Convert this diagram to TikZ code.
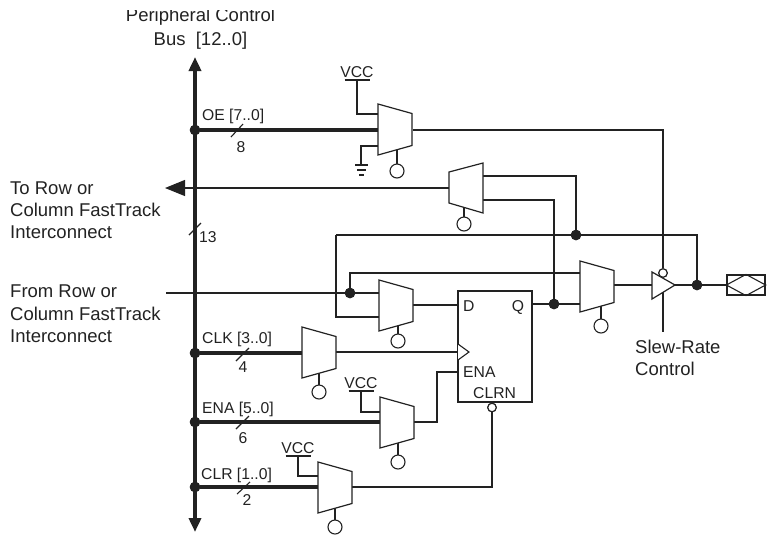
\documentclass[tikz,border=0pt]{standalone}
\usepackage{fontspec}
\setmainfont{Liberation Sans}
\usetikzlibrary{arrows.meta}
\definecolor{ink}{HTML}{222222}
\tikzset{
  wire/.style={draw=ink,line width=1.1pt},
  thick bus/.style={draw=ink,line width=4pt},
  muxbody/.style={draw=ink,line width=1.2pt,fill=white,line join=miter},
  dot/.style={circle,fill=ink,inner sep=0pt,minimum size=10.5pt},
  sel/.style={circle,draw=ink,line width=1.1pt,fill=white,inner sep=0pt,minimum size=14pt},
  inv/.style={circle,draw=ink,line width=1.1pt,fill=white,inner sep=0pt,minimum size=8.5pt},
  big/.style={font=\fontsize{18.5}{22}\selectfont,text=ink,inner sep=0pt},
  small/.style={font=\fontsize{15.7}{18}\selectfont,text=ink,inner sep=0pt},
  pt/.style={inner sep=0pt,minimum size=0pt}
}
% name, x left, y top, x select, y circle
\newcommand{\muxunit}[5]{%
  \pgfmathsetmacro{\sy}{#3+51-(#4-#2)*9.5/34}%
  \draw[wire] (#4,\sy) coordinate (#1-stem) -- (#4,#5) node[sel] (#1-sel) {};
  \draw[muxbody] (#2,#3) -- (#2+34,#3+9.5) -- (#2+34,#3+41.5) -- (#2,#3+51) -- cycle;
}
% VCC: name, x, y of bar, pin
\newcommand{\vccunit}[2]{%
  \coordinate (#1) at (#2);
  \draw[wire,line width=1.2pt] ([xshift=-12.5pt]#1) -- ([xshift=12.5pt]#1);
  \node[small,anchor=base] at ([yshift=3pt]#1) {VCC};
}
\begin{document}
\begin{tikzpicture}[x=1pt,y=-1pt]
\useasboundingbox (0,0) rectangle (775,550);
% header
\node[big,anchor=base] (hdr1) at (200.5,21.5) {Peripheral Control};
\node[big,anchor=base] (hdr2) at (200.5,45) {Bus\ \ [12..0]};
\fill[white] (100,0) rectangle (300,9.5);
% left labels
\node[big,anchor=base west] (t1) at (10,194) {To Row or};
\node[big,anchor=base west] (t2) at (10,216) {Column FastTrack};
\node[big,anchor=base west] (t3) at (10,238) {Interconnect};
\node[big,anchor=base west] (f1) at (10,297) {From Row or};
\node[big,anchor=base west] (f2) at (10,320) {Column FastTrack};
\node[big,anchor=base west] (f3) at (10,342) {Interconnect};
\node[big,anchor=base west] (s1) at (635,353) {Slew-Rate};
\node[big,anchor=base west] (s2) at (635,375) {Control};

% named points
\coordinate (bustop) at (195,57);
\coordinate (busbot) at (195,532);
\node[dot] (doe) at (195,130) {};
\node[dot] (dclk) at (195,353) {};
\node[dot] (dena) at (195,422) {};
\node[dot] (dclr) at (195,487) {};
\coordinate (oein) at (378,130);
\coordinate (clkin) at (302,353);
\coordinate (enain) at (380,422);
\coordinate (clrin) at (318,487);
\coordinate (tip) at (165,188);
\coordinate (m2in) at (449,188);
\coordinate (m2a) at (483,176);
\coordinate (m2b) at (483,200);
\node[dot] (dfb) at (576,235) {};
\node[dot] (dq) at (554,304) {};
\node[dot] (dout) at (697,285) {};
\node[dot] (din) at (350,293) {};
\coordinate (from) at (166,293);
\coordinate (m3a) at (379,293);
\coordinate (m3b) at (379,317);
\coordinate (m3o) at (413,305);
\coordinate (ffd) at (458,305);
\coordinate (ffq) at (532,304);
\coordinate (m4a) at (580,273);
\coordinate (m4b) at (580,304);
\coordinate (m4o) at (614,285);
\coordinate (bufin) at (652,285);
\coordinate (buftip) at (675,285);
\coordinate (fbleft) at (336,235);
\coordinate (oeo) at (413,130);
\coordinate (ctl) at (663,130);
\coordinate (slewtop) at (663,292);
\coordinate (slewbot) at (663,332);
\coordinate (padl) at (727,285);
\coordinate (clko) at (336,352);
\coordinate (ffclk) at (458,352);
\coordinate (enao) at (413,422);
\coordinate (ffena) at (458,372);
\coordinate (clro) at (352,487);
\node[inv] (clrn) at (492,407.5) {};
\node[inv] (oen) at (663,273) {};

% bus and branches
\draw[thick bus,{Triangle[length=14pt,width=12pt]}-{Triangle[length=14pt,width=12pt]},fill=ink] (bustop) -- (busbot);
\draw[thick bus] (doe) -- (oein);
\draw[thick bus] (dclk) -- (clkin);
\draw[thick bus] (dena) -- (enain);
\draw[thick bus] (dclr) -- (clrin);

% wires
\draw[wire,-{Triangle[length=20pt,width=16pt]},draw=ink,fill=ink] (m2in) -- (tip);
\draw[wire] (m2a) -| (dfb);
\draw[wire] (m2b) -| (dq);
\draw[wire] (fbleft) -- (dfb) -| (dout);
\draw[wire] (m3b) -| (fbleft);
\draw[wire] (from) -- (m3a);
\draw[wire] (din) |- (m4a);
\draw[wire] (m3o) -- (ffd);
\draw[wire] (ffq) -- (m4b);
\draw[wire] (m4o) -- (bufin);
\draw[wire] (buftip) -- (padl);
\draw[wire] (oeo) -| (oen);
\draw[wire] (slewtop) -- (slewbot);
\draw[wire] (clko) -- (ffclk);
\draw[wire] (enao) -| (437,372) -- (ffena);
\draw[wire] (clro) -| (clrn);

% muxes
\muxunit{mo}{378}{104}{397}{171}
\muxunit{mq}{379}{280}{398}{341}
\muxunit{mf}{580}{261}{601}{326}
\muxunit{mc}{302}{327}{319}{392}
\muxunit{me}{380}{397}{398}{462}
\muxunit{mr}{318}{462}{335}{527}
% reversed mux
\draw[wire] (464,207) -- (464,224) node[sel] (mb-sel) {};
\draw[muxbody] (449,172) -- (483,163) -- (483,213) -- (449,203) -- cycle;

% VCC tie-offs
\vccunit{v1}{357,80}
\draw[wire] (v1) |- (378,114);
\vccunit{v2}{361,391}
\draw[wire] (v2) |- (380,412);
\vccunit{v3}{298,456}
\draw[wire] (v3) |- (318,476);
% ground
\coordinate (gnd) at (361,165);
\draw[wire] (378,146) -| (gnd);
\draw[wire] (355,165) -- (368,165) (357,170) -- (366,170) (359,175) -- (364,175);

% flip-flop
\node[draw=ink,line width=1.2pt,fill=white,minimum width=74pt,minimum height=111pt,inner sep=0pt] (ff) at (495,346.5) {};
\draw[wire,fill=white] (458,344) -- (469,352) -- (458,360);
\node[inv] at (clrn) {};
\node[small,anchor=base west] at (463,311) {D};
\node[small,anchor=base] at (518,311) {Q};
\node[small,anchor=base west] at (463,377.5) {ENA};
\node[small,anchor=base west] at (473,398.5) {CLRN};

% tri-state buffer and pad
\draw[wire,fill=white,line width=1.2pt] (652,272) -- (675,285) -- (652,299) -- cycle;
\node[inv] at (oen) {};
\node[draw=ink,line width=1.2pt,minimum width=38pt,minimum height=20pt,inner sep=0pt] (pad) at (746,285) {};
\draw[wire] (pad.west) -- (pad.north) -- (pad.east) -- (pad.south) -- cycle;

% dots on top
\foreach \d in {doe,dclk,dena,dclr,dfb,dq,dout,din} \node[dot] at (\d) {};

% width marks
\draw[wire] (231,137) -- (243,124);
\draw[wire] (189,235) -- (201,223);
\draw[wire] (236,361) -- (249,348);
\draw[wire] (236,429) -- (249,416);
\draw[wire] (237,494) -- (250,482);
\node[small,anchor=base west] at (202,120.5) {OE [7..0]};
\node[small,anchor=base] at (241,152) {8};
\node[small,anchor=base west] at (199,242) {13};
\node[small,anchor=base west] at (202,343.5) {CLK [3..0]};
\node[small,anchor=base] at (243,372) {4};
\node[small,anchor=base west] at (202,413) {ENA [5..0]};
\node[small,anchor=base] at (243,443) {6};
\node[small,anchor=base west] at (201,479) {CLR [1..0]};
\node[small,anchor=base] at (247,505) {2};
\end{tikzpicture}
\end{document}
